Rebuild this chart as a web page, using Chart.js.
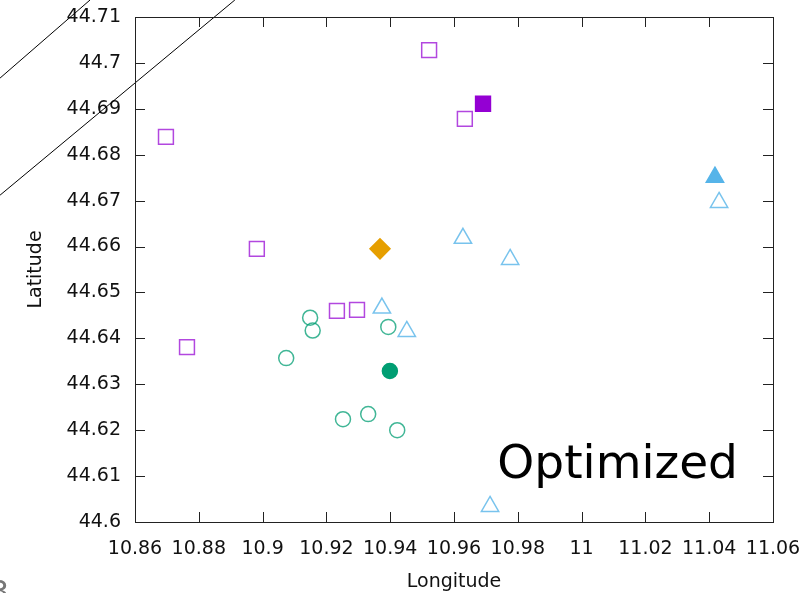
<!DOCTYPE html>
<html>
<head>
<meta charset="utf-8">
<script src="https://cdn.jsdelivr.net/npm/chart.js@4"></script>
<style>
  html, body { margin: 0; padding: 0; background: #fff; }
  #wrap { position: relative; width: 812px; height: 593px; }
</style>
</head>
<body>
<div id="wrap"><canvas id="c" width="812" height="593"></canvas></div>
<script>
// tick labels
const xTicks = [10.86, 10.88, 10.9, 10.92, 10.94, 10.96, 10.98, 11, 11.02, 11.04, 11.06];
const yTicks = [44.6, 44.61, 44.62, 44.63, 44.64, 44.65, 44.66, 44.67, 44.68, 44.69, 44.7, 44.71];

// violet squares (candidates / optimized)
const violetOpenX = [10.8697, 10.9522, 10.9634, 10.8982, 10.8763, 10.9233, 10.9296];
const violetOpenY = [44.6839, 44.7028, 44.6878, 44.6595, 44.6381, 44.6460, 44.6462];
const violetFillX = [10.9691];
const violetFillY = [44.6911];

// blue triangles
const blueOpenX = [11.0431, 10.9628, 10.9776, 10.9374, 10.9452, 10.9713];
const blueOpenY = [44.6696, 44.6618, 44.6572, 44.6466, 44.6415, 44.6034];
const blueFillX = [11.0418];
const blueFillY = [44.6751];

// green circles
const greenOpenX = [10.9149, 10.9157, 10.9074, 10.9394, 10.9252, 10.9331, 10.9422];
const greenOpenY = [44.6445, 44.6417, 44.6357, 44.6425, 44.6224, 44.6235, 44.6200];
const greenFillX = [10.9399];
const greenFillY = [44.6329];

// orange diamond
const orangeX = [10.9368];
const orangeY = [44.6595];

// stray lines from the neighbouring panel
const line1X = [10.8177, 10.8459];
const line1Y = [44.6967, 44.7137];
const line2X = [10.8177, 10.8913];
const line2Y = [44.6712, 44.7137];

const pts = (xs, ys) => xs.map((x, i) => ({ x, y: ys[i] }));
const FONT = 'DejaVu Sans';

function marks(xs, ys, style, radius, color, filled) {
  return {
    data: pts(xs, ys),
    pointStyle: style,
    pointRadius: radius,
    pointHoverRadius: radius,
    borderWidth: 1.5,
    pointBorderColor: color,
    pointBackgroundColor: filled ? color : 'rgba(0,0,0,0)',
    showLine: false,
  };
}

function lineSet(xs, ys) {
  return {
    data: pts(xs, ys),
    showLine: true,
    pointRadius: 0,
    borderColor: '#000',
    borderWidth: 1,
    clip: false,
  };
}

const frame = {
  id: 'frame',
  afterDraw(chart) {
    const { ctx, chartArea: a, scales: { x, y } } = chart;
    ctx.save();
    ctx.strokeStyle = '#222';
    ctx.lineWidth = 1;
    ctx.strokeRect(a.left + 0.5, a.top + 0.5, a.right - a.left, a.bottom - a.top);
    ctx.beginPath();
    xTicks.forEach(v => {
      const px = Math.round(x.getPixelForValue(v)) + 0.5;
      ctx.moveTo(px, a.bottom); ctx.lineTo(px, a.bottom - 10);
      ctx.moveTo(px, a.top); ctx.lineTo(px, a.top + 10);
    });
    yTicks.forEach(v => {
      const py = Math.round(y.getPixelForValue(v)) + 0.5;
      ctx.moveTo(a.left, py); ctx.lineTo(a.left + 10, py);
      ctx.moveTo(a.right, py); ctx.lineTo(a.right - 10, py);
    });
    ctx.stroke();

    ctx.fillStyle = '#000';
    ctx.font = '47px "' + FONT + '"';
    ctx.textAlign = 'right';
    ctx.textBaseline = 'alphabetic';
    ctx.fillText('Optimized', x.getPixelForValue(11.049), y.getPixelForValue(44.6096));

    ctx.fillStyle = '#777';
    ctx.font = '30px "' + FONT + '"';
    ctx.textAlign = 'right';
    ctx.fillText('3', 9, 602);
    ctx.restore();
  }
};

new Chart(document.getElementById('c'), {
  type: 'scatter',
  data: {
    datasets: [
      lineSet(line1X, line1Y),
      lineSet(line2X, line2Y),
      marks(violetOpenX, violetOpenY, 'rect', 10.5, 'rgba(148,0,211,0.72)', false),
      marks(violetFillX, violetFillY, 'rect', 10.5, '#9400d3', true),
      marks(blueOpenX, blueOpenY, 'triangle', 10, 'rgba(86,180,233,0.8)', false),
      marks(blueFillX, blueFillY, 'triangle', 10, '#56b4e9', true),
      marks(greenOpenX, greenOpenY, 'circle', 7.5, 'rgba(0,158,115,0.75)', false),
      marks(greenFillX, greenFillY, 'circle', 7.5, '#009e73', true),
      marks(orangeX, orangeY, 'rectRot', 10, '#e69f00', true),
    ]
  },
  options: {
    responsive: false,
    animation: false,
    events: [],
    layout: { padding: { top: 17, right: 39, left: 0, bottom: 0 } },
    plugins: { legend: { display: false }, tooltip: { enabled: false } },
    scales: {
      x: {
        type: 'linear',
        min: 10.86, max: 11.06,
        afterBuildTicks: s => { s.ticks = xTicks.map(v => ({ value: v })); },
        afterFit: s => { s.height = 71; s.paddingLeft = 0; s.paddingRight = 0; },
        grid: { display: false, drawTicks: false },
        border: { display: false },
        ticks: {
          color: '#111', padding: 16, maxRotation: 0, autoSkip: false,
          font: { family: FONT, size: 19 },
          callback: v => String(+v.toFixed(2)),
        },
        title: {
          display: true, text: 'Longitude', color: '#111', padding: { top: 6, bottom: 0 },
          font: { family: FONT, size: 19 },
        },
      },
      y: {
        type: 'linear',
        min: 44.6, max: 44.71,
        afterBuildTicks: s => { s.ticks = yTicks.map(v => ({ value: v })); },
        afterFit: s => { s.width = 135; s.paddingTop = 0; s.paddingBottom = 0; },
        grid: { display: false, drawTicks: false },
        border: { display: false },
        ticks: {
          color: '#111', padding: 14, autoSkip: false,
          font: { family: FONT, size: 19 },
          callback: v => String(+v.toFixed(2)),
        },
        title: {
          display: true, text: 'Latitude', color: '#111', padding: { top: 25, bottom: 0 },
          font: { family: FONT, size: 19 },
        },
      },
    },
  },
  plugins: [frame],
});
</script>
</body>
</html>
